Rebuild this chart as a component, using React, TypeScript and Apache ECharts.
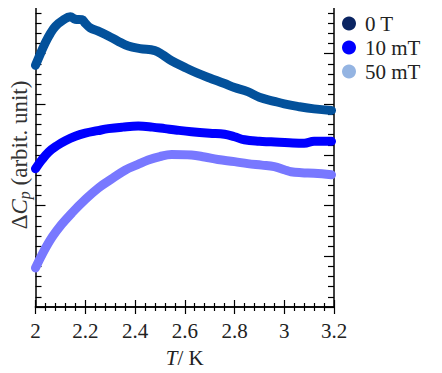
import React, { useEffect, useRef } from "react";
import * as echarts from "echarts";

const xTicks = [2, 2.2, 2.4, 2.6, 2.8, 3, 3.2];
const seriesNames = ["0 T", "10 mT", "50 mT"];
const lineColors = ["#03519b", "#0000ff", "#7878ff"];
const legendColors = ["#0a2462", "#0000ff", "#94b4e2"];

const data0T: [number, number][] = [
  [2.0, 4.77], [2.02, 5.0], [2.04, 5.22], [2.06, 5.4], [2.08, 5.54], [2.11, 5.66], [2.14, 5.73],
  [2.16, 5.68], [2.187, 5.67], [2.2, 5.6], [2.22, 5.51], [2.25, 5.45], [2.293, 5.35],
  [2.33, 5.25], [2.373, 5.15], [2.42, 5.1], [2.48, 5.06], [2.51, 4.98], [2.547, 4.86],
  [2.6, 4.73], [2.653, 4.61], [2.7, 4.52], [2.76, 4.41], [2.8, 4.33], [2.853, 4.25],
  [2.9, 4.14], [2.96, 4.06], [3.0, 4.01], [3.053, 3.96], [3.12, 3.91], [3.19, 3.88],
];
const data10mT: [number, number][] = [
  [2.0, 2.73], [2.025, 2.9], [2.053, 3.06], [2.085, 3.18], [2.12, 3.28], [2.16, 3.37],
  [2.2, 3.43], [2.25, 3.48], [2.293, 3.52], [2.35, 3.55], [2.413, 3.57], [2.47, 3.55],
  [2.52, 3.52], [2.57, 3.49], [2.627, 3.46], [2.7, 3.43], [2.76, 3.41], [2.8, 3.36],
  [2.84, 3.3], [2.9, 3.27], [2.947, 3.26], [3.02, 3.24], [3.08, 3.23], [3.12, 3.27],
  [3.19, 3.27],
];
const data50mT: [number, number][] = [
  [2.0, 0.77], [2.03, 1.07], [2.067, 1.38], [2.105, 1.63], [2.147, 1.86], [2.2, 2.12],
  [2.253, 2.35], [2.31, 2.54], [2.36, 2.7], [2.41, 2.81], [2.453, 2.9], [2.5, 2.97],
  [2.547, 3.01], [2.627, 3.0], [2.68, 2.96], [2.733, 2.91], [2.8, 2.87], [2.853, 2.83],
  [2.91, 2.8], [2.96, 2.77], [3.0, 2.71], [3.027, 2.67], [3.07, 2.65], [3.12, 2.64],
  [3.19, 2.61],
];

const FONT = "'Liberation Serif', 'DejaVu Serif', serif";

export default function App() {
  const ref = useRef<HTMLDivElement>(null);
  useEffect(() => {
    if (!ref.current) return;
    const chart = echarts.init(ref.current, undefined, { renderer: "svg" });
    const axisLine = { show: true, lineStyle: { color: "#000", width: 1.5 } };
    const xCommon = {
      type: "value" as const,
      min: 2,
      max: 3.2,
      interval: 0.2,
      axisLine,
      axisTick: { show: true, inside: true, length: 7, lineStyle: { color: "#000", width: 1.2 } },
      minorTick: { show: true, splitNumber: 5, length: 4, lineStyle: { color: "#000", width: 1.2 } },
      splitLine: { show: false },
    };
    const yCommon = {
      type: "value" as const,
      min: 0,
      max: 6,
      interval: 1,
      axisLine,
      axisTick: { show: true, inside: true, length: 10, lineStyle: { color: "#000", width: 1.2 } },
      minorTick: { show: true, splitNumber: 5, length: 6, lineStyle: { color: "#000", width: 1.2 } },
      splitLine: { show: false },
      axisLabel: { show: false },
    };
    const datas = [data0T, data10mT, data50mT];
    chart.setOption({
      animation: false,
      grid: { left: 34, right: 108, top: 3, bottom: 60, containLabel: false },
      xAxis: [
        {
          ...xCommon,
          position: "bottom",
          name: "{i|T}{n|/ K}",
          nameLocation: "middle",
          nameGap: 40,
          nameTextStyle: {
            fontFamily: FONT,
            rich: {
              i: { fontFamily: FONT, fontStyle: "italic", fontSize: 21, color: "#222" },
              n: { fontFamily: FONT, fontSize: 21, color: "#222" },
            },
          },
          axisLabel: {
            show: true,
            fontFamily: FONT,
            fontSize: 21,
            color: "#222",
            margin: 13,
            formatter: (v: number) => {
              const r = Math.round(v * 10) / 10;
              return xTicks.includes(r) ? String(r) : "";
            },
          },
        },
        { ...xCommon, position: "top", axisLabel: { show: false } },
      ],
      yAxis: [
        {
          ...yCommon,
          position: "left",
          name: "Δ{i|C}{sub|p} (arbit. unit)",
          nameLocation: "middle",
          nameGap: 3,
          nameRotate: 90,
          nameTextStyle: {
            fontFamily: FONT,
            fontSize: 23,
            color: "#333",
            rich: {
              i: { fontFamily: FONT, fontStyle: "italic", fontSize: 23, color: "#333" },
              sub: { fontFamily: FONT, fontStyle: "italic", fontSize: 16, color: "#333", verticalAlign: "bottom", padding: [10, 0, 0, 0] },
            },
          },
        },
        { ...yCommon, position: "right" },
      ],
      legend: {
        show: true,
        orient: "vertical",
        left: 337,
        top: 8,
        itemGap: 3,
        itemWidth: 14,
        itemHeight: 14,
        icon: "circle",
        textStyle: { fontFamily: FONT, fontSize: 21, color: "#222", padding: [0, 0, 0, 4] },
        data: seriesNames.map((n, i) => ({ name: n, itemStyle: { color: legendColors[i] } })),
      },
      series: datas.map((d, i) => ({
        name: seriesNames[i],
        type: "line",
        data: d,
        smooth: 0.4,
        showSymbol: false,
        symbol: "circle",
        lineStyle: { color: lineColors[i], width: 9, cap: "round", join: "round" },
        itemStyle: { color: lineColors[i] },
        z: 3 - i,
      })),
    });
    return () => chart.dispose();
  }, []);
  return <div ref={ref} style={{ width: 442, height: 373, margin: -8 }} />;
}
